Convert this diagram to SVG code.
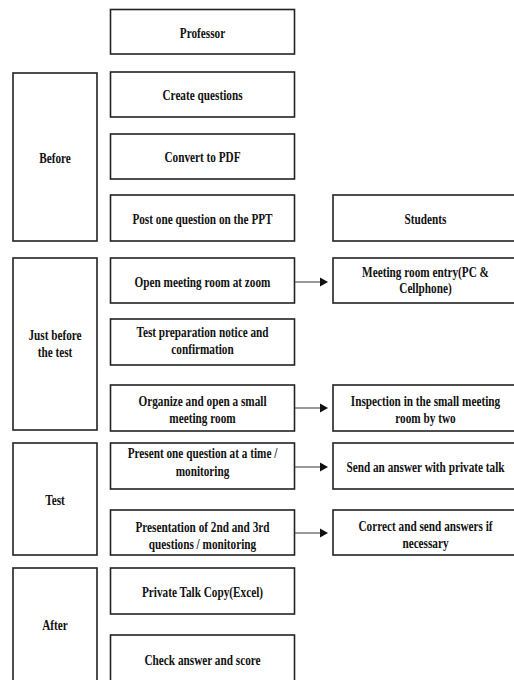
<svg xmlns="http://www.w3.org/2000/svg" width="514" height="680" viewBox="0 0 514 680">
<style>
rect{fill:#fff;stroke:#222;stroke-width:1.6}
text{font-family:"Liberation Serif","Times New Roman",serif;font-weight:bold;font-size:15px;fill:#111;text-anchor:middle}
.c line{stroke:#555;stroke-width:1.2}
.c polygon{fill:#111}
</style>
<rect x="0" y="0" width="514" height="680" style="fill:#fff;stroke:none"/>
<g id="before"><rect x="13" y="73" width="84" height="168"/><text transform="matrix(0.75 0 0 1 55 163)">Before</text></g>
<g id="justbefore"><rect x="13" y="258" width="84" height="172"/><text transform="matrix(0.75 0 0 1 55 340)">Just before</text><text transform="matrix(0.75 0 0 1 55 357)">the test</text></g>
<g id="test"><rect x="13" y="443" width="84" height="112"/><text transform="matrix(0.75 0 0 1 55 505)">Test</text></g>
<g id="after"><rect x="13" y="568" width="84" height="122"/><text transform="matrix(0.75 0 0 1 55 630)">After</text></g>

<g id="professor"><rect x="110.5" y="9.5" width="184" height="44.5"/><text transform="matrix(0.75 0 0 1 202.5 37.5)">Professor</text></g>
<g id="create"><rect x="110.5" y="72" width="184" height="45"/><text transform="matrix(0.75 0 0 1 202.5 100)">Create questions</text></g>
<g id="convert"><rect x="110.5" y="134" width="184" height="45"/><text transform="matrix(0.75 0 0 1 202.5 162)">Convert to PDF</text></g>
<g id="post"><rect x="110.5" y="195" width="184" height="46"/><text transform="matrix(0.75 0 0 1 202.5 223.5)">Post one question on the PPT</text></g>
<g id="open"><rect x="110.5" y="258" width="184" height="45"/><text transform="matrix(0.75 0 0 1 202.5 286.5)">Open meeting room at zoom</text></g>
<g id="prep"><rect x="110.5" y="319" width="184" height="46"/><text transform="matrix(0.75 0 0 1 202.5 337)">Test preparation notice and</text><text transform="matrix(0.75 0 0 1 202.5 354)">confirmation</text></g>
<g id="organize"><rect x="110.5" y="385" width="184" height="46"/><text transform="matrix(0.75 0 0 1 202.5 406)">Organize and open a small</text><text transform="matrix(0.75 0 0 1 202.5 423)">meeting room</text></g>
<g id="present"><rect x="110.5" y="443" width="184" height="46"/><text transform="matrix(0.75 0 0 1 202.5 458)">Present one question at a time /</text><text transform="matrix(0.75 0 0 1 202.5 476)">monitoring</text></g>
<g id="presentation"><rect x="110.5" y="510" width="184" height="45"/><text transform="matrix(0.75 0 0 1 202.5 531.5)">Presentation of 2nd and 3rd</text><text transform="matrix(0.75 0 0 1 202.5 549)">questions / monitoring</text></g>
<g id="privatetalk"><rect x="110.5" y="568" width="184" height="46"/><text transform="matrix(0.75 0 0 1 202.5 596.5)">Private Talk Copy(Excel)</text></g>
<g id="check"><rect x="110.5" y="635" width="184" height="55"/><text transform="matrix(0.75 0 0 1 202.5 665)">Check answer and score</text></g>

<g id="students"><rect x="333" y="195" width="185" height="46"/><text transform="matrix(0.75 0 0 1 425.5 223.5)">Students</text></g>
<g id="entry"><rect x="333" y="258" width="185" height="45"/><text transform="matrix(0.75 0 0 1 425.5 277)">Meeting room entry(PC &amp;</text><text transform="matrix(0.75 0 0 1 425.5 293)">Cellphone)</text></g>
<g id="inspection"><rect x="333" y="385" width="185" height="46"/><text transform="matrix(0.75 0 0 1 425.5 406)">Inspection in the small meeting</text><text transform="matrix(0.75 0 0 1 425.5 423)">room by two</text></g>
<g id="send"><rect x="333" y="443" width="185" height="46"/><text transform="matrix(0.75 0 0 1 425.5 471.5)">Send an answer with private talk</text></g>
<g id="correct"><rect x="333" y="510" width="185" height="45"/><text transform="matrix(0.75 0 0 1 425.5 531)">Correct and send answers if</text><text transform="matrix(0.75 0 0 1 425.5 548)">necessary</text></g>

<g id="connectors" class="c">
<line x1="295" y1="282" x2="321" y2="282"/><polygon points="320,277.5 328,282 320,286.5"/>
<line x1="295" y1="408" x2="321" y2="408"/><polygon points="320,403.5 328,408 320,412.5"/>
<line x1="295" y1="467" x2="321" y2="467"/><polygon points="320,462.5 328,467 320,471.5"/>
<line x1="295" y1="533" x2="321" y2="533"/><polygon points="320,528.5 328,533 320,537.5"/>
</g>
</svg>
